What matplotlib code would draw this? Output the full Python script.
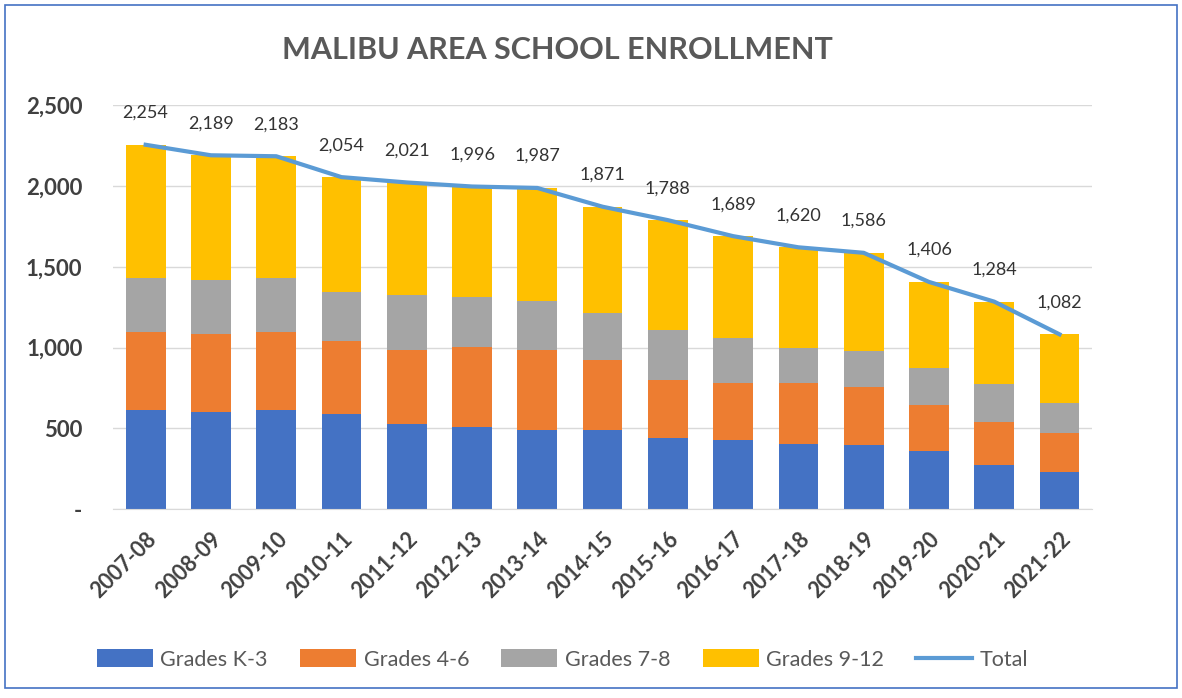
import matplotlib
matplotlib.use('Agg')
import matplotlib.pyplot as plt
import numpy as np
from matplotlib.patches import Rectangle
from matplotlib.ticker import FuncFormatter

plt.rcParams['font.family'] = ['Lato', 'DejaVu Sans']

years = ['2007-08', '2008-09', '2009-10', '2010-11', '2011-12', '2012-13', '2013-14',
         '2014-15', '2015-16', '2016-17', '2017-18', '2018-19', '2019-20', '2020-21', '2021-22']
grades_k3 = [612, 599, 612, 587, 527, 512, 492, 492, 444, 430, 407, 395, 362, 277, 230]
grades_46 = [484, 484, 484, 451, 461, 489, 496, 430, 358, 352, 375, 359, 285, 263, 239]
grades_78 = [334, 335, 334, 308, 335, 310, 298, 294, 306, 279, 217, 222, 225, 237, 189]
grades_912 = [824, 771, 753, 708, 698, 685, 701, 655, 680, 628, 621, 610, 534, 507, 424]
total = [2254, 2189, 2183, 2054, 2021, 1996, 1987, 1871, 1788, 1689, 1620, 1586, 1406, 1284, 1082]

series = [
    ('Grades K-3', grades_k3, '#4472C4'),
    ('Grades 4-6', grades_46, '#ED7D31'),
    ('Grades 7-8', grades_78, '#A5A5A5'),
    ('Grades 9-12', grades_912, '#FFC000'),
]

fig = plt.figure(figsize=(11.82, 6.98), dpi=100)
ax = fig.add_axes([0.0956, 0.2703, 0.8284, 0.5793])

x = np.arange(len(years))
bottom = np.zeros(len(years))
handles = []
for name, vals, col in series:
    h = ax.bar(x, vals, width=0.61, bottom=bottom, color=col, label=name, zorder=2)
    handles.append(h)
    bottom += np.array(vals)

line, = ax.plot(x, total, color='#5B9BD5', lw=3, label='Total', zorder=3)
handles.append(line)
for xi, t in zip(x, total):
    ax.annotate(f'{t:,}', (xi, t), xytext=(0, 23), textcoords='offset points',
                ha='center', va='center', fontsize=13, color='#333333')

ax.set_xlim(-0.5, len(years) - 0.5)
ax.set_ylim(0, 2500)
ax.set_yticks([0, 500, 1000, 1500, 2000, 2500])
ax.yaxis.set_major_formatter(FuncFormatter(lambda v, p: '-' if v == 0 else f'{int(v):,}'))
ax.grid(axis='y', color='#D9D9D9', lw=1, zorder=0)
ax.set_axisbelow(True)
for s in ['top', 'right', 'left']:
    ax.spines[s].set_visible(False)
ax.spines['bottom'].set_color('#D9D9D9')
ax.tick_params(axis='both', length=0)
ax.tick_params(axis='y', pad=22, labelsize=16, labelcolor='#404040')
ax.tick_params(axis='x', pad=14, labelsize=15.5, labelcolor='#404040')
for lab in ax.get_yticklabels():
    lab.set_fontweight('bold')
ax.set_xticks(x)
ax.set_xticklabels(years, rotation=45, ha='right', rotation_mode='anchor', fontweight='bold')

fig.text(0.472, 0.928, 'MALIBU AREA SCHOOL ENROLLMENT', ha='center', va='center',
         fontsize=22, fontweight='bold', color='#595959')

fig.legend(handles=handles, labels=[h.get_label() for h in handles],
           loc='center', bbox_to_anchor=(0.476, 0.055), ncol=5, frameon=False,
           fontsize=15.5, labelcolor='#595959', handlelength=2.6, handleheight=0.9,
           columnspacing=1.5, handletextpad=0.35)

fig.patches.append(Rectangle((0.004, 0.014), 0.992, 0.979, transform=fig.transFigure,
                             fill=False, edgecolor='#4472C4', lw=1.2))

fig.savefig('out.png', dpi=100)
